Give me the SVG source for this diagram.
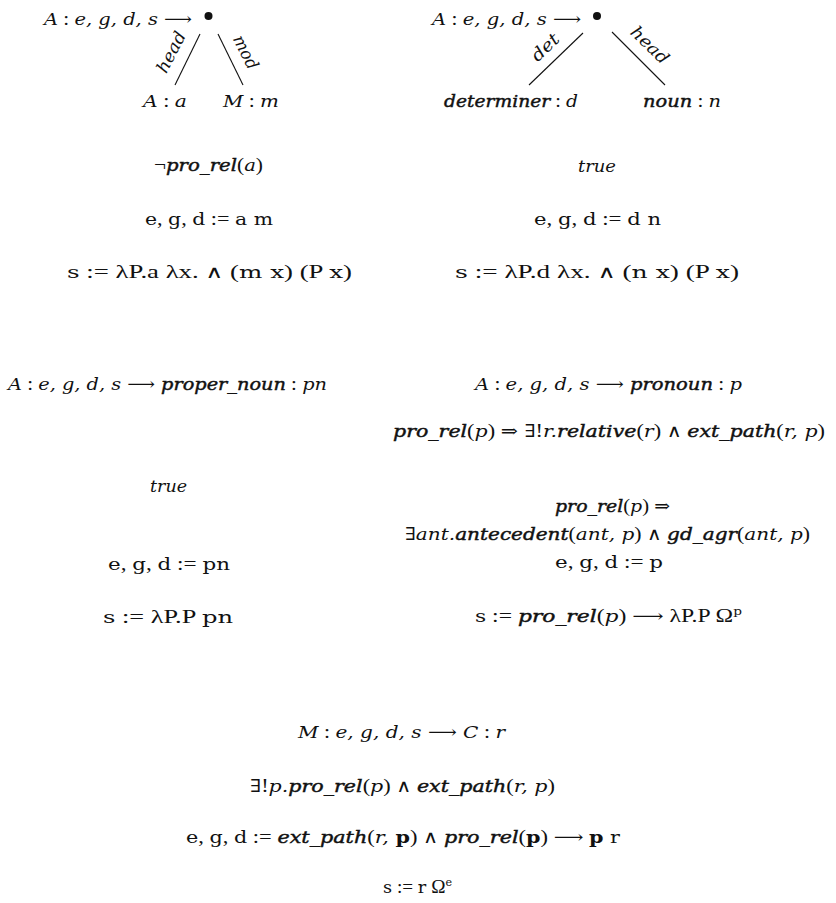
<svg xmlns="http://www.w3.org/2000/svg" width="836" height="903" viewBox="0 0 836 903">
<style>
text{font-family:"DejaVu Serif","Liberation Serif",serif;font-size:17.5px;fill:#111}
.it{font-style:italic}
.bi{font-style:italic;stroke:#111;stroke-width:0.45}
.rm{font-family:"Liberation Serif","DejaVu Serif",serif;font-style:normal;font-size:19px}
.tt{font-family:"DejaVu Serif",serif;font-style:normal}
.ttb{font-family:"DejaVu Serif",serif;font-style:normal;font-weight:bold}
.sy{font-family:"DejaVu Serif",serif;font-style:normal;font-weight:normal}
.sup{font-size:11px}
.edge{stroke:#111;stroke-width:1.1;fill:none}
.lbl{font-style:italic;font-size:17px}
</style>
<rect width="836" height="903" fill="#fff"/>

<g id="connectors">
<line class="edge" x1="200" y1="34" x2="175" y2="85"/>
<line class="edge" x1="218" y1="34" x2="243" y2="85"/>
<line class="edge" x1="583" y1="33" x2="529" y2="85"/>
<line class="edge" x1="612" y1="32" x2="665" y2="85"/>
<text class="lbl" transform="translate(171,52) rotate(-63)" text-anchor="middle" dominant-baseline="central" textLength="44" lengthAdjust="spacingAndGlyphs">head</text>
<text class="lbl" transform="translate(246,52) rotate(63)" text-anchor="middle" dominant-baseline="central" textLength="36" lengthAdjust="spacingAndGlyphs">mod</text>
<text class="lbl" transform="translate(545,47) rotate(-44)" text-anchor="middle" dominant-baseline="central" textLength="32" lengthAdjust="spacingAndGlyphs">det</text>
<text class="lbl" transform="translate(650,45) rotate(44)" text-anchor="middle" dominant-baseline="central" textLength="46" lengthAdjust="spacingAndGlyphs">head</text>
</g>

<g id="rule-modifier">
<text x="44" y="25" textLength="148" lengthAdjust="spacingAndGlyphs"><tspan class="it">A</tspan><tspan class="rm"> : </tspan><tspan class="it">e, g, d, s </tspan><tspan class="sy">⟶</tspan></text>
<circle cx="208.5" cy="16" r="4" fill="#111"/>
<text x="143" y="107" textLength="44" lengthAdjust="spacingAndGlyphs"><tspan class="it">A</tspan><tspan class="rm"> : </tspan><tspan class="it">a</tspan></text>
<text x="223" y="107" textLength="56" lengthAdjust="spacingAndGlyphs"><tspan class="it">M</tspan><tspan class="rm"> : </tspan><tspan class="it">m</tspan></text>
<text x="154" y="171" textLength="109" lengthAdjust="spacingAndGlyphs"><tspan class="rm">¬</tspan><tspan class="bi">pro_rel</tspan><tspan class="rm">(</tspan><tspan class="it">a</tspan><tspan class="rm">)</tspan></text>
<text x="145" y="225" textLength="128" lengthAdjust="spacingAndGlyphs"><tspan class="tt">e</tspan><tspan class="rm">, </tspan><tspan class="tt">g</tspan><tspan class="rm">, </tspan><tspan class="tt">d</tspan><tspan class="rm"> := </tspan><tspan class="tt">a m</tspan></text>
<text x="67" y="278" textLength="285" lengthAdjust="spacingAndGlyphs"><tspan class="tt">s</tspan><tspan class="rm"> := λP.a λx.  </tspan><tspan class="sy">∧</tspan><tspan class="rm">  (</tspan><tspan class="tt">m x</tspan><tspan class="rm">) (P </tspan><tspan class="tt">x</tspan><tspan class="rm">)</tspan></text>
</g>

<g id="rule-determiner">
<text x="432" y="25" textLength="149" lengthAdjust="spacingAndGlyphs"><tspan class="it">A</tspan><tspan class="rm"> : </tspan><tspan class="it">e, g, d, s </tspan><tspan class="sy">⟶</tspan></text>
<circle cx="597" cy="16" r="4" fill="#111"/>
<text x="444" y="107" textLength="134" lengthAdjust="spacingAndGlyphs"><tspan class="bi">determiner</tspan><tspan class="rm"> : </tspan><tspan class="it">d</tspan></text>
<text x="643" y="107" textLength="78" lengthAdjust="spacingAndGlyphs"><tspan class="bi">noun</tspan><tspan class="rm"> : </tspan><tspan class="it">n</tspan></text>
<text x="578" y="172" class="it" textLength="38" lengthAdjust="spacingAndGlyphs">true</text>
<text x="534" y="225" textLength="127" lengthAdjust="spacingAndGlyphs"><tspan class="tt">e</tspan><tspan class="rm">, </tspan><tspan class="tt">g</tspan><tspan class="rm">, </tspan><tspan class="tt">d</tspan><tspan class="rm"> := </tspan><tspan class="tt">d n</tspan></text>
<text x="455" y="278" textLength="284" lengthAdjust="spacingAndGlyphs"><tspan class="tt">s</tspan><tspan class="rm"> := λP.d λx.  </tspan><tspan class="sy">∧</tspan><tspan class="rm">  (</tspan><tspan class="tt">n x</tspan><tspan class="rm">) (P </tspan><tspan class="tt">x</tspan><tspan class="rm">)</tspan></text>
</g>

<g id="rule-proper-noun">
<text x="8" y="390" textLength="319" lengthAdjust="spacingAndGlyphs"><tspan class="it">A</tspan><tspan class="rm"> : </tspan><tspan class="it">e, g, d, s </tspan><tspan class="sy">⟶</tspan><tspan class="bi"> proper_noun</tspan><tspan class="rm"> : </tspan><tspan class="it">pn</tspan></text>
<text x="150" y="492" class="it" textLength="37" lengthAdjust="spacingAndGlyphs">true</text>
<text x="108" y="570" textLength="122" lengthAdjust="spacingAndGlyphs"><tspan class="tt">e</tspan><tspan class="rm">, </tspan><tspan class="tt">g</tspan><tspan class="rm">, </tspan><tspan class="tt">d</tspan><tspan class="rm"> := </tspan><tspan class="tt">pn</tspan></text>
<text x="103" y="623" textLength="130" lengthAdjust="spacingAndGlyphs"><tspan class="tt">s</tspan><tspan class="rm"> := λP.P </tspan><tspan class="tt">pn</tspan></text>
</g>

<g id="rule-pronoun">
<text x="475" y="390" textLength="267" lengthAdjust="spacingAndGlyphs"><tspan class="it">A</tspan><tspan class="rm"> : </tspan><tspan class="it">e, g, d, s </tspan><tspan class="sy">⟶</tspan><tspan class="bi"> pronoun</tspan><tspan class="rm"> : </tspan><tspan class="it">p</tspan></text>
<text x="393" y="437" textLength="432" lengthAdjust="spacingAndGlyphs"><tspan class="bi">pro_rel</tspan><tspan class="rm">(</tspan><tspan class="it">p</tspan><tspan class="rm">) </tspan><tspan class="sy">⇒ ∃</tspan><tspan class="rm">!</tspan><tspan class="it">r.</tspan><tspan class="bi">relative</tspan><tspan class="rm">(</tspan><tspan class="it">r</tspan><tspan class="rm">)  </tspan><tspan class="sy">∧</tspan><tspan class="rm">  </tspan><tspan class="bi">ext_path</tspan><tspan class="rm">(</tspan><tspan class="it">r, p</tspan><tspan class="rm">)</tspan></text>
<text x="555" y="512" textLength="115" lengthAdjust="spacingAndGlyphs"><tspan class="bi">pro_rel</tspan><tspan class="rm">(</tspan><tspan class="it">p</tspan><tspan class="rm">) </tspan><tspan class="sy">⇒</tspan></text>
<text x="405" y="540" textLength="405" lengthAdjust="spacingAndGlyphs"><tspan class="sy">∃</tspan><tspan class="it">ant.</tspan><tspan class="bi">antecedent</tspan><tspan class="rm">(</tspan><tspan class="it">ant, p</tspan><tspan class="rm">)  </tspan><tspan class="sy">∧</tspan><tspan class="rm">  </tspan><tspan class="bi">gd_agr</tspan><tspan class="rm">(</tspan><tspan class="it">ant, p</tspan><tspan class="rm">)</tspan></text>
<text x="555" y="568" textLength="108" lengthAdjust="spacingAndGlyphs"><tspan class="tt">e</tspan><tspan class="rm">, </tspan><tspan class="tt">g</tspan><tspan class="rm">, </tspan><tspan class="tt">d</tspan><tspan class="rm"> := </tspan><tspan class="tt">p</tspan></text>
<text x="475" y="622" textLength="267" lengthAdjust="spacingAndGlyphs"><tspan class="tt">s</tspan><tspan class="rm"> := </tspan><tspan class="bi">pro_rel</tspan><tspan class="rm">(</tspan><tspan class="it">p</tspan><tspan class="rm">) </tspan><tspan class="sy">⟶</tspan><tspan class="rm"> λP.P Ω</tspan><tspan class="tt sup" dy="-7">p</tspan></text>
</g>

<g id="rule-relative">
<text x="298" y="738" textLength="207" lengthAdjust="spacingAndGlyphs"><tspan class="it">M</tspan><tspan class="rm"> : </tspan><tspan class="it">e, g, d, s </tspan><tspan class="sy">⟶</tspan><tspan class="it"> C</tspan><tspan class="rm"> : </tspan><tspan class="it">r</tspan></text>
<text x="250" y="792" textLength="305" lengthAdjust="spacingAndGlyphs"><tspan class="sy">∃</tspan><tspan class="rm">!</tspan><tspan class="it">p.</tspan><tspan class="bi">pro_rel</tspan><tspan class="rm">(</tspan><tspan class="it">p</tspan><tspan class="rm">)  </tspan><tspan class="sy">∧</tspan><tspan class="rm">  </tspan><tspan class="bi">ext_path</tspan><tspan class="rm">(</tspan><tspan class="it">r, p</tspan><tspan class="rm">)</tspan></text>
<text x="186" y="843" textLength="434" lengthAdjust="spacingAndGlyphs"><tspan class="tt">e</tspan><tspan class="rm">, </tspan><tspan class="tt">g</tspan><tspan class="rm">, </tspan><tspan class="tt">d</tspan><tspan class="rm"> := </tspan><tspan class="bi">ext_path</tspan><tspan class="rm">(</tspan><tspan class="it">r, </tspan><tspan class="ttb">p</tspan><tspan class="rm">)  </tspan><tspan class="sy">∧</tspan><tspan class="rm">  </tspan><tspan class="bi">pro_rel</tspan><tspan class="rm">(</tspan><tspan class="ttb">p</tspan><tspan class="rm">) </tspan><tspan class="sy">⟶</tspan><tspan class="rm"> </tspan><tspan class="ttb">p</tspan><tspan class="tt"> r</tspan></text>
<text x="383" y="893" textLength="69" lengthAdjust="spacingAndGlyphs"><tspan class="tt">s</tspan><tspan class="rm"> := </tspan><tspan class="tt">r</tspan><tspan class="rm"> Ω</tspan><tspan class="tt sup" dy="-7">e</tspan></text>
</g>
</svg>
